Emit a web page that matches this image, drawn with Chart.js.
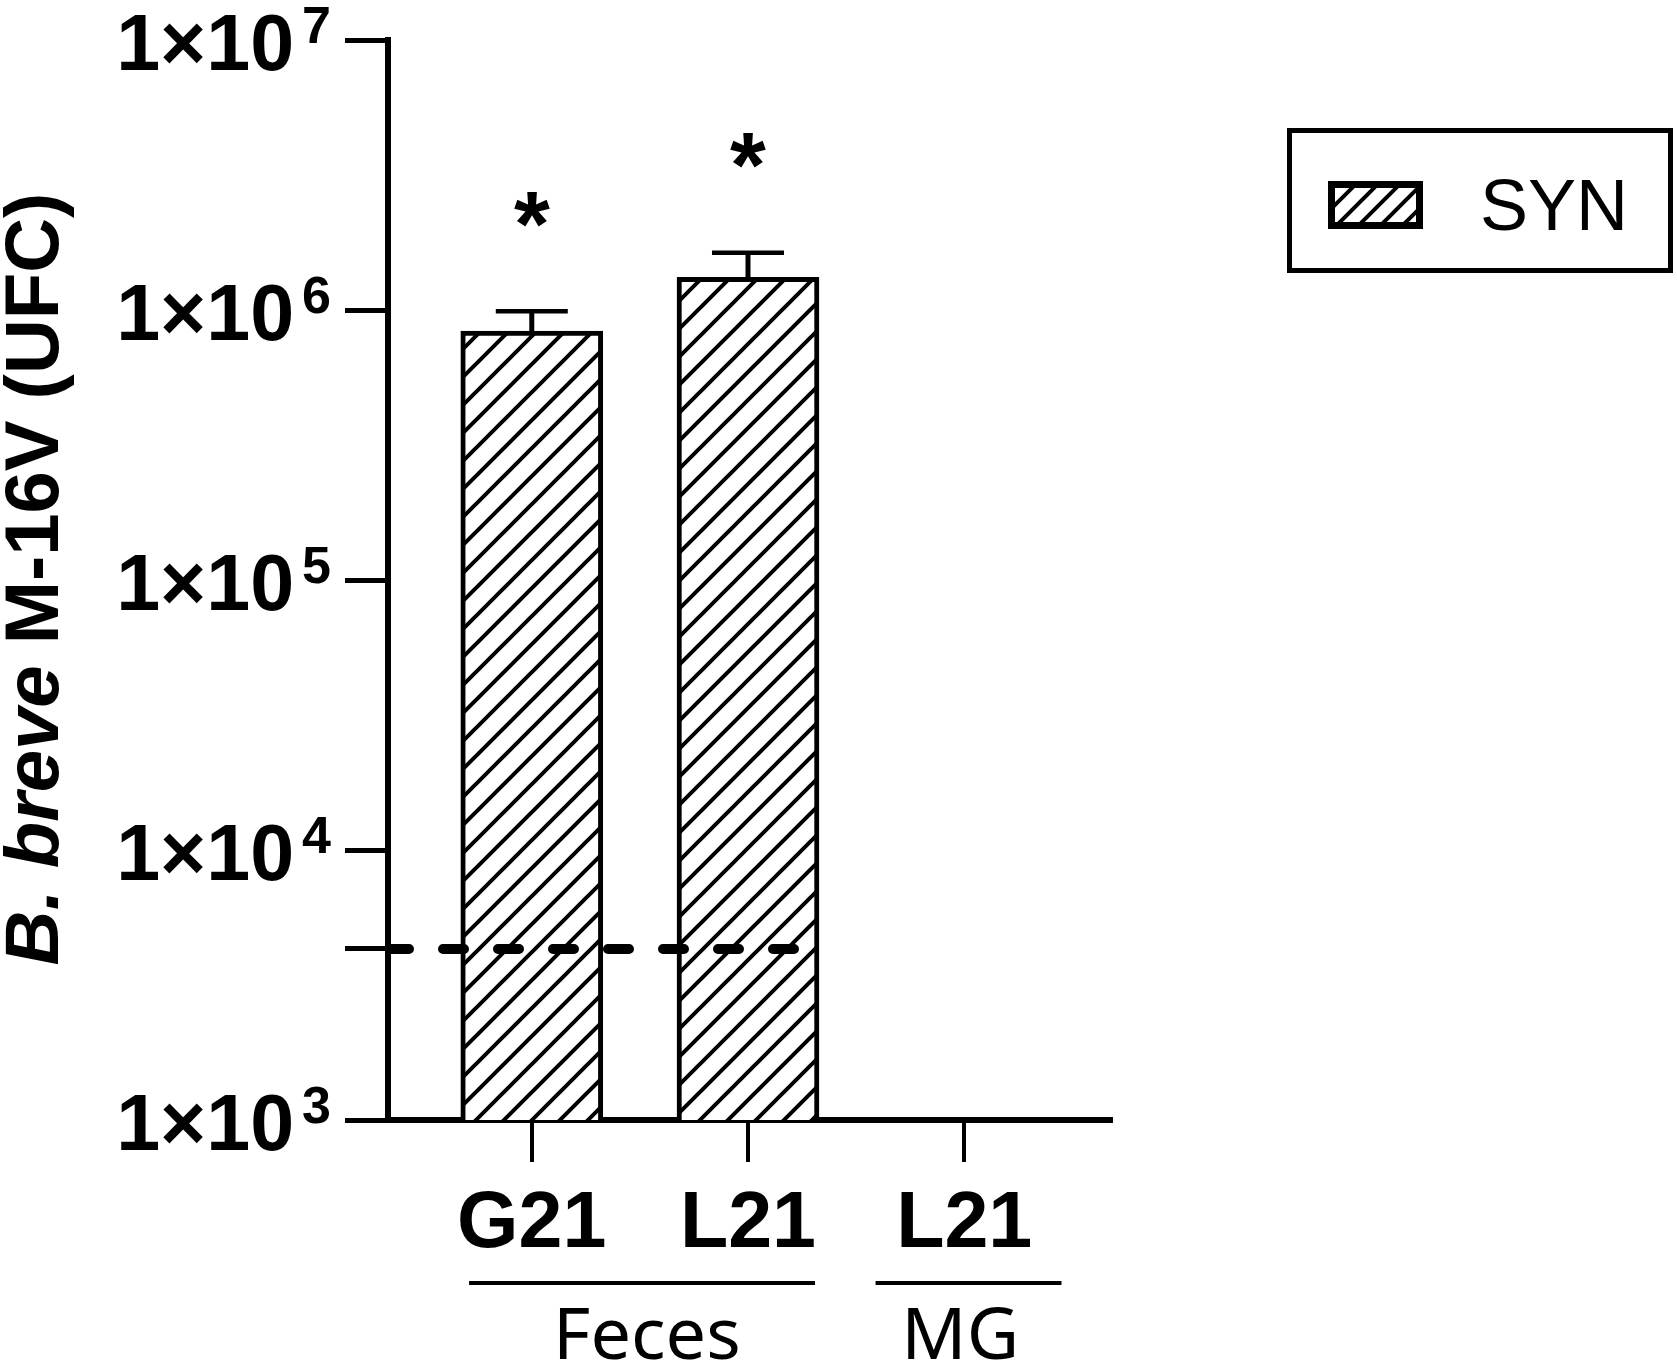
<!DOCTYPE html>
<html>
<head>
<meta charset="utf-8">
<script src="https://cdn.jsdelivr.net/npm/chart.js@4.4.1/dist/chart.umd.min.js"></script>
<style>
  html, body { margin: 0; padding: 0; background: #fff; }
  #wrap { width: 1677px; height: 1368px; }
</style>
</head>
<body>
<div id="wrap"><canvas id="c" width="1677" height="1368"></canvas></div>
<script>
// ---- data ----
const categories = ['G21', 'L21', 'L21'];
const groupLabels = ['Feces', 'MG'];
const groupMembers = [[0, 1], [2]];
const seriesLabel = 'SYN';
const synMeans = [8.35e5, 1.32e6, null];
const synUpper = [9.9e5, 1.63e6, null];
const significance = ['*', '*', ''];
const detectionLimit = 4.3e3;
const yTickValues = [1e3, 1e4, 1e5, 1e6, 1e7];
const yTitleItalic = 'B. breve';
const yTitleRest = ' M-16V (UFC)';

// ---- layout constants ----
const X_MIN = -0.665, X_MAX = 2.679;
const LOD_END = 1.367;
const GROUP_EXT = [[-0.29, 0.31], [-0.41, 0.45]];
const GROUP_TEXT_SHIFT = [7, -4];

function makeHatch(step, lw) {
  const c = document.createElement('canvas');
  c.width = step; c.height = step;
  const g = c.getContext('2d');
  g.fillStyle = '#fff'; g.fillRect(0, 0, step, step);
  g.strokeStyle = '#000'; g.lineWidth = lw; g.lineCap = 'square';
  g.beginPath();
  g.moveTo(-2, step + 2); g.lineTo(step + 2, -2);
  g.moveTo(-2, 2); g.lineTo(2, -2);
  g.moveTo(step - 2, step + 2); g.lineTo(step + 2, step - 2);
  g.stroke();
  return g.createPattern(c, 'repeat');
}
const mainCtx = document.getElementById('c').getContext('2d');
const hatch = makeHatch(28, 4);
const hatchSmall = makeHatch(22, 4);

const SANS = '"Liberation Sans", Arial, sans-serif';

const decor = {
  id: 'decor',
  afterDatasetsDraw(chart) {
    const ctx = chart.ctx;
    const ys = chart.scales.y;
    const meta = chart.getDatasetMeta(1);
    ctx.save();
    ctx.strokeStyle = '#000';
    ctx.fillStyle = '#000';
    synUpper.forEach((u, i) => {
      if (u == null) return;
      const bar = meta.data[i];
      const top = ys.getPixelForValue(u);
      ctx.lineWidth = 5;
      ctx.beginPath();
      ctx.moveTo(bar.x, bar.y);
      ctx.lineTo(bar.x, top);
      ctx.stroke();
      ctx.lineWidth = 4.5;
      ctx.beginPath();
      ctx.moveTo(bar.x - 36, top);
      ctx.lineTo(bar.x + 36, top);
      ctx.stroke();
      if (significance[i]) {
        const fs = 92;
        ctx.font = `bold ${fs}px ${SANS}`;
        ctx.textAlign = 'center';
        ctx.textBaseline = 'alphabetic';
        ctx.fillText(significance[i], bar.x, top - 108 + 0.57 * fs);
      }
    });
    ctx.restore();
  },
  afterDraw(chart) {
    const ctx = chart.ctx;
    const ys = chart.scales.y;
    const xs = chart.scales.x;
    ctx.save();
    ctx.fillStyle = '#000';
    ctx.strokeStyle = '#000';
    // y tick labels with superscripts
    yTickValues.forEach(v => {
      const py = ys.getPixelForValue(v);
      const e = Math.round(Math.log10(v));
      const m = Math.round(v / Math.pow(10, e));
      ctx.textBaseline = 'alphabetic';
      ctx.textAlign = 'right';
      ctx.font = `bold 52px ${SANS}`;
      const expStr = String(e);
      const ew = ctx.measureText(expStr).width;
      ctx.fillText(expStr, 331, py + 3);
      ctx.font = `bold 79px ${SANS}`;
      ctx.fillText(`${m}×10`, 331 - ew - 8, py + 30);
    });
    // y title
    ctx.save();
    ctx.translate(58, 579);
    ctx.rotate(-Math.PI / 2);
    ctx.textAlign = 'left';
    ctx.textBaseline = 'alphabetic';
    const f1 = `italic bold 76px ${SANS}`;
    const f2 = `bold 76px ${SANS}`;
    ctx.font = f1; const w1 = ctx.measureText(yTitleItalic).width;
    ctx.font = f2; const w2 = ctx.measureText(yTitleRest).width;
    const start = -(w1 + w2) / 2;
    ctx.font = f1; ctx.fillText(yTitleItalic, start, 0);
    ctx.font = f2; ctx.fillText(yTitleRest, start + w1, 0);
    ctx.restore();
    // group lines and labels
    groupLabels.forEach((g, k) => {
      const mem = groupMembers[k];
      const x1 = xs.getPixelForValue(mem[0] + GROUP_EXT[k][0]);
      const x2 = xs.getPixelForValue(mem[mem.length - 1] + GROUP_EXT[k][1]);
      ctx.lineWidth = 4;
      ctx.beginPath();
      ctx.moveTo(x1, 1283);
      ctx.lineTo(x2, 1283);
      ctx.stroke();
      const cx = xs.getPixelForValue(mem.reduce((a, b) => a + b, 0) / mem.length) + GROUP_TEXT_SHIFT[k];
      ctx.font = `72px "Noto Sans", "Open Sans", sans-serif`;
      ctx.textAlign = 'center';
      ctx.textBaseline = 'alphabetic';
      ctx.fillText(g, cx, 1359);
    });
    // legend
    ctx.lineWidth = 5;
    ctx.strokeRect(1289.5, 130.5, 381, 140);
    ctx.fillStyle = hatchSmall;
    ctx.fillRect(1328, 181, 95, 48);
    ctx.lineWidth = 7;
    ctx.strokeRect(1331.5, 184.5, 88, 41);
    ctx.fillStyle = '#000';
    ctx.font = `72px ${SANS}`;
    ctx.textAlign = 'left';
    ctx.fillText(chart.data.datasets[1].label, 1480, 230);
    ctx.restore();
  }
};

new Chart(mainCtx, {
  type: 'bar',
  data: {
    datasets: [
      {
        type: 'line',
        label: 'Detection limit',
        data: [{ x: X_MIN, y: detectionLimit }, { x: LOD_END, y: detectionLimit }],
        borderColor: '#000',
        borderWidth: 10,
        borderDash: [21, 34],
        borderCapStyle: 'round',
        pointRadius: 0,
        fill: false,
        order: 0
      },
      {
        type: 'bar',
        label: seriesLabel,
        data: categories.map((c, i) => ({ x: i, y: synMeans[i] })),
        backgroundColor: hatch,
        borderColor: '#000',
        borderWidth: 5,
        borderSkipped: 'start',
        barThickness: 142,
        order: 1
      }
    ]
  },
  options: {
    responsive: false,
    animation: false,
    layout: { padding: { left: 0, right: 566, top: 40, bottom: 0 } },
    plugins: { legend: { display: false }, tooltip: { enabled: false } },
    scales: {
      x: {
        type: 'linear',
        min: X_MIN,
        max: X_MAX,
        offset: false,
        afterBuildTicks: s => { s.ticks = categories.map((c, i) => ({ value: i })); },
        afterFit: s => { s.height = 248; },
        ticks: {
          callback: v => categories[v],
          color: '#000',
          font: { family: SANS, size: 79, weight: 'bold' },
          padding: 16,
          maxRotation: 0,
          autoSkip: false
        },
        grid: { offset: false, drawOnChartArea: false, tickLength: 42, lineWidth: 4, color: '#000' },
        border: { width: 6, color: '#000' }
      },
      y: {
        type: 'logarithmic',
        min: 1e3,
        max: 1e7,
        afterBuildTicks: s => {
          s.ticks = [...yTickValues, detectionLimit].sort((a, b) => a - b).map(v => ({ value: v }));
        },
        afterFit: s => { s.width = 388; },
        ticks: { display: false },
        grid: { drawOnChartArea: false, tickLength: 43, lineWidth: 5, color: '#000' },
        border: { width: 6, color: '#000' }
      }
    }
  },
  plugins: [decor]
});
</script>
</body>
</html>
